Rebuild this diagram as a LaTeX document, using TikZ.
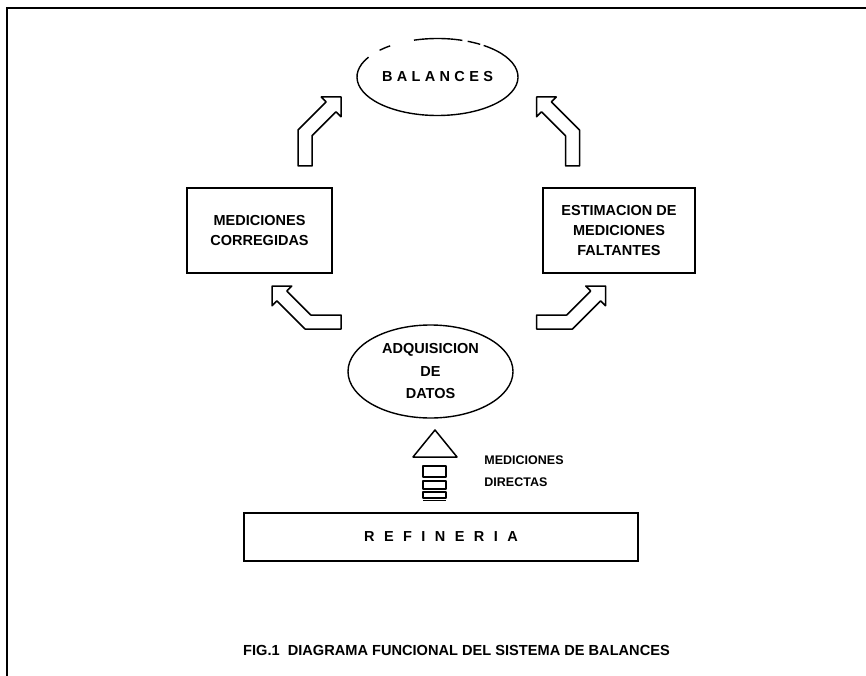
\documentclass[tikz,border=0pt]{standalone}
\usepackage{fontspec}
\setmainfont{Liberation Sans}
\usetikzlibrary{shapes.geometric}
\begin{document}
\begin{tikzpicture}[x=1pt,y=-1pt,
  outline/.style={draw=black,line width=1.4pt},
  blockarrow/.style={draw=black,line width=1.5pt,line join=round},
  boxtext/.style={font=\fontsize{14.5}{20}\selectfont\bfseries,align=center,text=black},
]
\useasboundingbox (0,0) rectangle (866,676);
% page frame
\draw[line width=1.4pt] (7,676) -- (7,8) -- (866,8);

% BALANCES ellipse with a broken upper rim
\coordinate (balc) at (437.5,77);
\node[boxtext,font=\fontsize{14.5}{20}\selectfont\bfseries\addfontfeature{LetterSpace=30}] (bal) at (balc) {BALANCES};
\draw[outline] ([shift={(305:80.5 and 38.5)}]balc) arc[start angle=305,end angle=571,x radius=80.5,y radius=38.5];
\draw[outline] ([shift={(292:80.5 and 38.5)}]balc) arc[start angle=292,end angle=302,x radius=80.5,y radius=38.5];
\draw[outline] ([shift={(253:80.5 and 38.5)}]balc) arc[start angle=253,end angle=288,x radius=80.5,y radius=38.5];
\draw[outline] ([shift={(224:80.5 and 38.5)}]balc) arc[start angle=224,end angle=234,x radius=80.5,y radius=38.5];

% side boxes
\node[outline,boxtext,rectangle,minimum width=145pt,minimum height=85pt] (corr) at (259.5,230.5) {MEDICIONES\\CORREGIDAS};
\node[outline,boxtext,rectangle,minimum width=152pt,minimum height=85pt] (est) at (619,230.5) {ESTIMACION DE\\MEDICIONES\\FALTANTES};

% data acquisition
\node[outline,boxtext,ellipse,minimum width=165pt,minimum height=93pt,inner sep=0pt,
      font=\fontsize{14.5}{22.5}\selectfont\bfseries] (adq) at (430.5,371.5) {ADQUISICION\\DE\\DATOS};

% refinery
\node[outline,rectangle,minimum width=394pt,minimum height=48pt,
      font=\fontsize{14.5}{20}\selectfont\bfseries\addfontfeature{LetterSpace=65}] (ref) at (441,537) {REFINERIA};

\node[font=\fontsize{12.5}{22}\selectfont\bfseries,align=left] (dir) at (524,471) {MEDICIONES\\DIRECTAS};

% bent block arrows
\draw[blockarrow] (298,166) -- (298,130) -- (326.1,101.9) -- (321.2,97) -- (341,97) -- (341,116.8) -- (336,111.8) -- (312,135.8) -- (312,166) -- cycle;
\draw[blockarrow] (579.5,166) -- (579.5,130) -- (551.4,101.9) -- (556.3,97) -- (536.5,97) -- (536.5,116.8) -- (541.5,111.8) -- (565.5,135.8) -- (565.5,166) -- cycle;
\draw[blockarrow] (341,329) -- (305,329) -- (276.9,300.9) -- (272,305.8) -- (272,286) -- (291.8,286) -- (286.8,291) -- (310.8,315) -- (341,315) -- cycle;
\draw[blockarrow] (536.5,329) -- (572.5,329) -- (600.6,300.9) -- (605.5,305.8) -- (605.5,286) -- (585.7,286) -- (590.7,291) -- (566.7,315) -- (536.5,315) -- cycle;

% upward arrow with segmented shaft
\draw[blockarrow] (413,457) -- (435,430) -- (457,457) -- cycle;
\draw[blockarrow] (423,466) rectangle (446,477);
\draw[blockarrow] (423,481) rectangle (446,489);
\draw[blockarrow] (423,492) rectangle (446,498);
\draw[blockarrow] (423,500.5) -- (446,500.5);

% caption
\node[font=\fontsize{14.6}{18}\selectfont\bfseries] (cap) at (456.5,650) {FIG.1\ \ DIAGRAMA FUNCIONAL DEL SISTEMA DE BALANCES};
\end{tikzpicture}
\end{document}
